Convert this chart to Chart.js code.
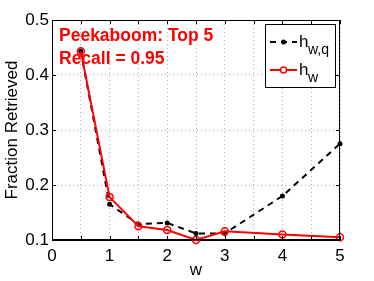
<!DOCTYPE html>
<html>
<head>
<meta charset="utf-8">
<script src="https://cdn.jsdelivr.net/npm/chart.js@4/dist/chart.umd.min.js"></script>
<style>
  html, body { margin: 0; padding: 0; background: #fff; }
</style>
</head>
<body>
<canvas id="myChart" width="374" height="281"></canvas>
<script>
// data
var wValues = [0.5, 1, 1.5, 2, 2.5, 3, 4, 5];
var hwq = [0.443, 0.165, 0.129, 0.131, 0.112, 0.112, 0.180, 0.275];
var hw = [0.443, 0.178, 0.125, 0.118, 0.100, 0.116, 0.110, 0.105];
var xTickLabels = [0, 1, 2, 3, 4, 5];
var yTickLabels = [0.1, 0.2, 0.3, 0.4, 0.5];

var FONT = '"Liberation Sans", Arial, Helvetica, sans-serif';

function toPoints(xs, ys) {
  return xs.map(function (x, i) { return { x: x, y: ys[i] }; });
}

// box, inward ticks, annotation text and legend (MATLAB look)
var matlabBits = {
  id: 'matlabBits',
  beforeDatasetsDraw: function (chart) {
    var c = chart.ctx;
    c.save();
    c.fillStyle = '#ff0000';
    c.font = 'bold 17.5px ' + FONT;
    c.textBaseline = 'alphabetic';
    c.fillText('Peekaboom: Top 5', 59, 41);
    c.fillText('Recall = 0.95', 59, 64);
    c.restore();
  },
  afterDraw: function (chart) {
    var c = chart.ctx, a = chart.chartArea;
    var xs = chart.scales.x, ys = chart.scales.y;
    c.save();
    c.strokeStyle = '#000';
    c.lineWidth = 1;
    c.strokeRect(a.left + 0.5, a.top + 0.5, a.right - a.left - 1, a.bottom - a.top - 1);
    c.beginPath();
    for (var v = 0; v <= 5; v += 0.5) {
      var px = Math.round(xs.getPixelForValue(v)) + 0.5;
      c.moveTo(px, a.bottom); c.lineTo(px, a.bottom - 4);
      c.moveTo(px, a.top); c.lineTo(px, a.top + 4);
    }
    yTickLabels.forEach(function (t) {
      var py = Math.round(ys.getPixelForValue(t)) + 0.5;
      c.moveTo(a.left, py); c.lineTo(a.left + 4, py);
      c.moveTo(a.right, py); c.lineTo(a.right - 4, py);
    });
    c.stroke();

    // legend
    var lx = 265, ly = 24, lw = 70, lh = 63;
    c.fillStyle = '#fff';
    c.fillRect(lx, ly, lw, lh);
    c.strokeRect(lx + 0.5, ly + 0.5, lw, lh);

    c.beginPath();
    c.setLineDash([6, 5]);
    c.lineWidth = 2;
    c.strokeStyle = '#000';
    c.moveTo(270, 42); c.lineTo(297, 42);
    c.stroke();
    c.setLineDash([]);
    c.beginPath();
    c.fillStyle = '#000';
    c.arc(283.5, 42, 2.5, 0, Math.PI * 2);
    c.fill();

    c.beginPath();
    c.strokeStyle = '#ff0000';
    c.moveTo(270, 70); c.lineTo(297, 70);
    c.stroke();
    c.beginPath();
    c.lineWidth = 1.5;
    c.fillStyle = '#fff';
    c.arc(283.5, 70, 3, 0, Math.PI * 2);
    c.fill();
    c.stroke();

    c.fillStyle = '#000';
    c.font = '17px ' + FONT;
    c.fillText('h', 299, 47);
    c.fillText('h', 299, 75);
    c.font = '14px ' + FONT;
    c.fillText('w,q', 308, 54);
    c.fillText('w', 308, 82);
    c.restore();
  }
};

var ctx = document.getElementById('myChart');
var myChart = new Chart(ctx, {
  type: 'line',
  data: {
    datasets: [{
      label: 'h_w,q',
      data: toPoints(wValues, hwq),
      order: 1,
      borderColor: '#000',
      backgroundColor: '#000',
      borderWidth: 2,
      borderDash: [6, 5],
      pointRadius: 2.5,
      pointBorderWidth: 0,
      pointBackgroundColor: '#000',
      clip: false,
      tension: 0
    }, {
      label: 'h_w',
      data: toPoints(wValues, hw),
      order: 0,
      borderColor: '#ff0000',
      backgroundColor: 'rgba(0,0,0,0)',
      borderWidth: 2,
      pointRadius: 3.5,
      pointBorderWidth: 1.5,
      pointBorderColor: '#ff0000',
      pointBackgroundColor: 'rgba(0,0,0,0)',
      clip: false,
      tension: 0
    }]
  },
  options: {
    responsive: false,
    animation: false,
    layout: { padding: { top: 20, right: 34, left: 0, bottom: 0 } },
    plugins: { legend: { display: false }, tooltip: { enabled: false } },
    scales: {
      x: {
        type: 'linear',
        min: 0, max: 5,
        afterFit: function (s) { s.height = 41; },
        ticks: {
          stepSize: 0.5,
          autoSkip: false,
          maxRotation: 0,
          padding: 6,
          color: '#000',
          font: { family: FONT, size: 17 },
          callback: function (v) { return xTickLabels.indexOf(v) >= 0 ? String(v) : ''; }
        },
        grid: { color: '#b0b0b0', drawTicks: false, lineWidth: 1 },
        border: { color: '#000', dash: [1, 3] },
        title: { display: true, text: 'w', color: '#000', font: { family: FONT, size: 17 }, padding: 0 }
      },
      y: {
        min: 0.1, max: 0.5,
        afterFit: function (s) { s.width = 52; },
        ticks: {
          stepSize: 0.1,
          padding: 3,
          color: '#000',
          font: { family: FONT, size: 17 },
          callback: function (v) { return v.toFixed(1); }
        },
        grid: { color: '#b0b0b0', drawTicks: false, lineWidth: 1 },
        border: { color: '#000', dash: [1, 3] },
        title: { display: true, text: 'Fraction Retrieved', color: '#000', font: { family: FONT, size: 17 }, padding: { top: 2 } }
      }
    }
  },
  plugins: [matlabBits]
});
</script>
</body>
</html>
